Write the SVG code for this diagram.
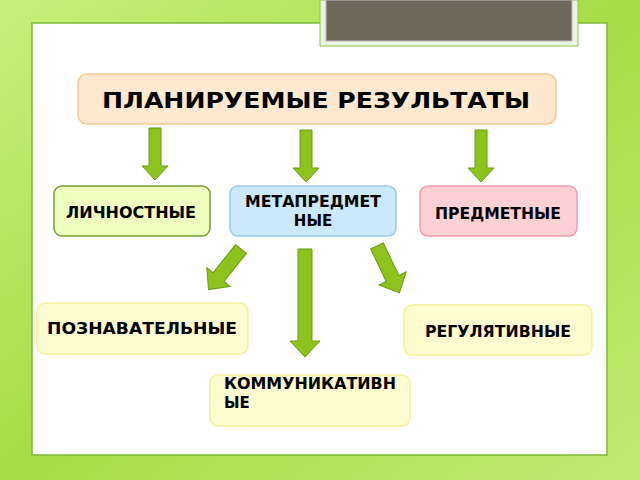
<svg xmlns="http://www.w3.org/2000/svg" width="640" height="480" viewBox="0 0 640 480">
<defs>
<linearGradient id="bg" x1="0" y1="0" x2="1" y2="1"><stop offset="0" stop-color="#c8ef7a"/><stop offset="0.5" stop-color="#a8dc48"/><stop offset="1" stop-color="#c2ea72"/></linearGradient>
<style>
.ar{fill:#8dc21f;stroke:#6b9a10;stroke-width:1}
.t{font-family:"DejaVu Sans","Open Sans",sans-serif;font-weight:bold;fill:#000}
.s{font-size:15px}
</style>
</defs>
<rect width="640" height="480" fill="url(#bg)"/>
<rect x="32" y="23" width="575" height="432" fill="#fff" stroke="#7cb83a" stroke-width="1.5"/>
<rect x="320" y="0" width="258" height="46" fill="#eaf3e0" stroke="#8cc84a"/>
<rect x="326" y="0" width="246" height="41" fill="#70685a" stroke="#bbb"/>
<g id="top"><rect x="78" y="74" width="478" height="50" rx="9" fill="#fee8d0" stroke="#f5c98f" stroke-width="1.5"/><text class="t" x="316" y="108" font-size="21" text-anchor="middle" textLength="428" lengthAdjust="spacingAndGlyphs">ПЛАНИРУЕМЫЕ  РЕЗУЛЬТАТЫ</text></g>
<g id="lich"><rect x="54" y="186" width="156" height="50" rx="8" fill="#eeffc0" stroke="#77a030" stroke-width="1.5"/><text class="t s" x="131" y="218" text-anchor="middle" textLength="130" lengthAdjust="spacingAndGlyphs">ЛИЧНОСТНЫЕ</text></g>
<g id="meta"><rect x="230" y="186" width="166" height="50" rx="8" fill="#cce8fb" stroke="#9cc8ee" stroke-width="1.5"/><text class="t s" x="313" y="207" text-anchor="middle" textLength="136" lengthAdjust="spacingAndGlyphs">МЕТАПРЕДМЕТ</text><text class="t s" x="313" y="226" text-anchor="middle">НЫЕ</text></g>
<g id="pred"><rect x="420" y="186" width="157" height="50" rx="8" fill="#fdd0d4" stroke="#f09ab0" stroke-width="1.5"/><text class="t s" x="498" y="219" text-anchor="middle" textLength="126" lengthAdjust="spacingAndGlyphs">ПРЕДМЕТНЫЕ</text></g>
<g id="pozn"><rect x="37" y="303" width="211" height="51" rx="8" fill="#fefbd0" stroke="#f6f09a" stroke-width="1.5"/><text class="t s" x="142" y="334" text-anchor="middle" textLength="190" lengthAdjust="spacingAndGlyphs">ПОЗНАВАТЕЛЬНЫЕ</text></g>
<g id="reg"><rect x="404" y="305" width="188" height="50" rx="8" fill="#fefbd0" stroke="#f6f09a" stroke-width="1.5"/><text class="t s" x="498" y="337" text-anchor="middle" textLength="146" lengthAdjust="spacingAndGlyphs">РЕГУЛЯТИВНЫЕ</text></g>
<g id="komm"><rect x="210" y="375" width="200" height="51" rx="8" fill="#fefbd0" stroke="#f6f09a" stroke-width="1.5"/><text class="t s" x="224" y="389" textLength="172" lengthAdjust="spacingAndGlyphs">КОММУНИКАТИВН</text><text class="t s" x="224" y="408">ЫЕ</text></g>
<g id="connectors">
<path class="ar" transform="translate(155,128)" d="M-6,0H6V38H13L0,52L-13,38H-6Z"/>
<path class="ar" transform="translate(306,130)" d="M-6,0H6V38H13L0,52L-13,38H-6Z"/>
<path class="ar" transform="translate(481,130)" d="M-6,0H6V38H13L0,52L-13,38H-6Z"/>
<path class="ar" transform="translate(241,249) rotate(38.7)" d="M-7,0H7V36H15L0,52L-15,36H-7Z"/>
<path class="ar" transform="translate(305,249)" d="M-7,0H7V92H15L0,108L-15,92H-7Z"/>
<path class="ar" transform="translate(377,246) rotate(-25.6)" d="M-7,0H7V36H15L0,52L-15,36H-7Z"/>
</g>
</svg>
